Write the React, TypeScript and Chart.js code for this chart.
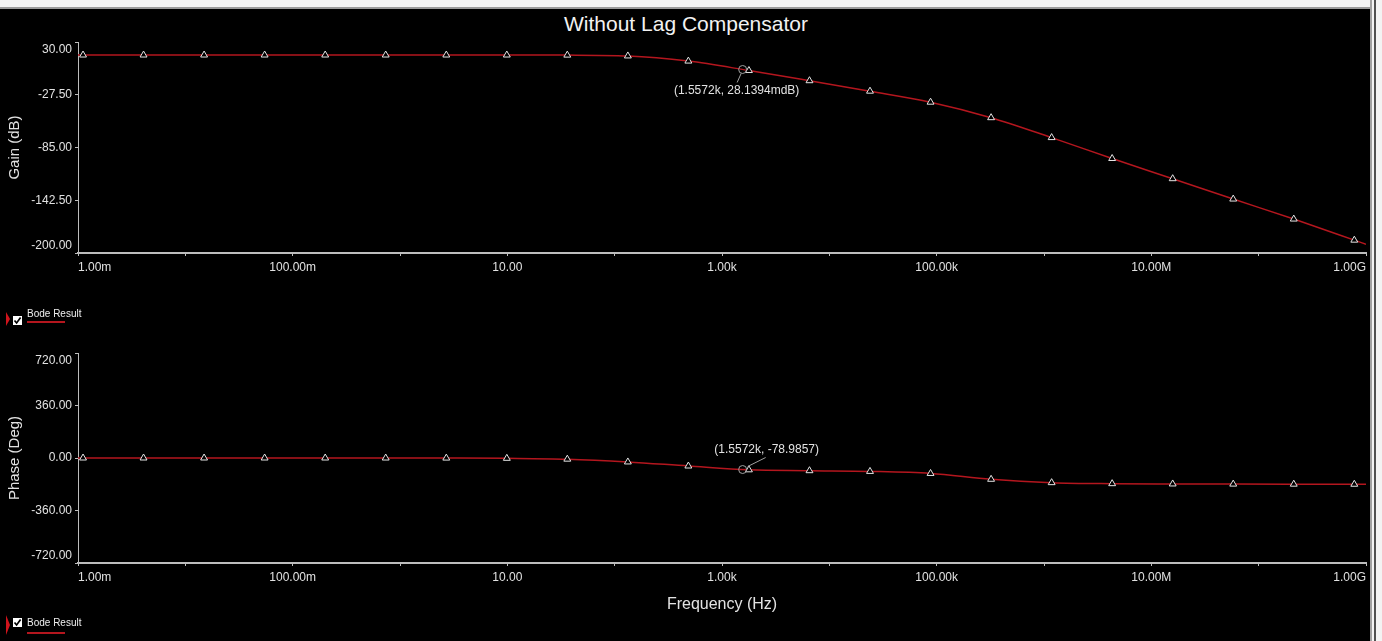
import React, { useEffect, useRef } from 'react';
import Chart from 'chart.js/auto';

const FONT = '"Liberation Sans", Arial, sans-serif';
const RED = 'rgb(180,22,30)';
const AXIS = '#bdbdbd';
const TEXT = '#e2e2e2';

// Frequency samples (Hz): axis start, 22 marker points, axis end
const frequencies = [1e-3, 1.114e-3, 4.08e-3, 0.01496, 0.0548, 0.201, 0.736, 2.7, 9.89, 36.2, 132.7, 486, 1782, 6531, 23930, 87700, 321400, 1.178e6, 4.315e6, 1.581e7, 5.794e7, 2.123e8, 7.78e8, 1e9];
const gainDb = [15.8, 15.8, 15.8, 15.8, 15.8, 15.8, 15.8, 15.8, 15.8, 15.7, 14.8, 9.2, -1.1, -12.2, -23.6, -35.6, -52.5, -74.2, -97, -119, -141.2, -163, -186, -190.5];
const phaseDeg = [0, 0, 0, 0, 0, 0, -0.2, -0.6, -2.2, -8, -27, -55, -81, -87, -92, -106, -146, -169, -176, -178, -179, -179.5, -180, -180];

const xTickValues = [1e-3, 1e-2, 1e-1, 1, 10, 100, 1e3, 1e4, 1e5, 1e6, 1e7, 1e8, 1e9];
const xTickLabels = ['1.00m', '', '100.00m', '', '10.00', '', '1.00k', '', '100.00k', '', '10.00M', '', '1.00G'];
const gainTicks = [-200, -142.5, -85, -27.5, 30];
const gainTickLabels = ['-200.00', '-142.50', '-85.00', '-27.50', '30.00'];
const phaseTicks = [-720, -360, 0, 360, 720];
const phaseTickLabels = ['-720.00', '-360.00', '0.00', '360.00', '720.00'];

const cursorFreq = 1557.2;
const cursorGain = 0.0281394;
const cursorPhase = -78.9857;
const gainCursorLabel = '(1.5572k, 28.1394mdB)';
const phaseCursorLabel = '(1.5572k, -78.9857)';

type PanelProps = {
  top: number;
  height: number;
  padTop: number;
  xHeight: number;
  series: number[];
  yTicks: number[];
  yLabels: string[];
  yTitle: string;
  xTitle?: string;
  cursorValue: number;
  cursorLabel: string;
  textDx: number;
  textDy: number;
  leader: number[];
};

function BodePanel(p: PanelProps) {
  const ref = useRef<HTMLCanvasElement>(null);
  useEffect(() => {
    const canvas = ref.current;
    if (!canvas) return;
    const yLabelPlugin = {
      id: 'yLabels',
      afterDraw(chart: any) {
        const s = chart.scales.y;
        const ctx = chart.ctx;
        ctx.save();
        ctx.font = `12px ${FONT}`;
        ctx.fillStyle = TEXT;
        ctx.textAlign = 'right';
        ctx.textBaseline = 'middle';
        p.yTicks.forEach((v, i) => {
          let py = s.getPixelForValue(v);
          if (i === 0) py -= 7;
          else if (i === p.yTicks.length - 1) py += 8;
          ctx.fillText(p.yLabels[i], s.right - 6, py);
        });
        ctx.restore();
      },
    };
    const cursorPlugin = {
      id: 'cursor',
      afterDatasetsDraw(chart: any) {
        const { ctx } = chart;
        const px = chart.scales.x.getPixelForValue(cursorFreq);
        const py = chart.scales.y.getPixelForValue(p.cursorValue);
        ctx.save();
        ctx.strokeStyle = '#a0a0a0';
        ctx.lineWidth = 1;
        ctx.beginPath();
        ctx.arc(px, py, 4, 0, Math.PI * 2);
        ctx.stroke();
        ctx.beginPath();
        ctx.moveTo(px + p.leader[0], py + p.leader[1]);
        ctx.lineTo(px + p.leader[2], py + p.leader[3]);
        ctx.stroke();
        ctx.fillStyle = TEXT;
        ctx.font = `12px ${FONT}`;
        ctx.textAlign = 'center';
        ctx.textBaseline = 'middle';
        ctx.fillText(p.cursorLabel, px + p.textDx, py + p.textDy);
        ctx.restore();
      },
    };
    const last = frequencies.length - 1;
    const chart = new Chart(canvas, {
      type: 'line',
      data: {
        datasets: [
          {
            data: frequencies.map((f, i) => ({ x: f, y: p.series[i] })),
            borderColor: RED,
            borderWidth: 1.5,
            cubicInterpolationMode: 'monotone',
            pointStyle: 'triangle',
            pointRadius: frequencies.map((_, i) => (i === 0 || i === last ? 0 : 4)),
            pointBorderColor: '#e4e4e4',
            pointBackgroundColor: '#000',
            pointBorderWidth: 1,
          } as any,
        ],
      },
      options: {
        animation: false,
        responsive: false,
        maintainAspectRatio: false,
        events: [],
        layout: { padding: { left: 0, right: 4, top: p.padTop, bottom: 0 } },
        plugins: { legend: { display: false }, tooltip: { enabled: false }, title: { display: false } },
        scales: {
          x: {
            type: 'logarithmic',
            min: 1e-3,
            max: 1e9,
            afterBuildTicks: (s: any) => {
              s.ticks = xTickValues.map((v) => ({ value: v }));
            },
            afterFit: (s: any) => {
              s.height = p.xHeight;
            },
            ticks: {
              autoSkip: false,
              maxRotation: 0,
              minRotation: 0,
              align: 'inner',
              color: TEXT,
              font: { family: FONT, size: 12 },
              padding: 4,
              callback: (_v: any, i: number) => xTickLabels[i],
            },
            grid: { drawOnChartArea: false, tickLength: 3, color: AXIS },
            border: { color: AXIS, width: 2 },
            title: p.xTitle
              ? { display: true, text: p.xTitle, color: TEXT, font: { family: FONT, size: 16 }, padding: { top: 0, bottom: 9 } }
              : { display: false },
          } as any,
          y: {
            type: 'linear',
            min: p.yTicks[0],
            max: p.yTicks[p.yTicks.length - 1],
            afterBuildTicks: (s: any) => {
              s.ticks = p.yTicks.map((v) => ({ value: v }));
            },
            afterFit: (s: any) => {
              s.width = 78;
            },
            ticks: { display: false },
            grid: { drawOnChartArea: false, tickLength: 3, color: AXIS },
            border: { color: AXIS, width: 1 },
            title: { display: true, text: p.yTitle, color: TEXT, font: { family: FONT, size: 15 }, padding: { top: 6, bottom: 0 } },
          } as any,
        },
      },
      plugins: [yLabelPlugin, cursorPlugin],
    });
    return () => chart.destroy();
  }, []);
  return (
    <canvas
      ref={ref}
      width={1370}
      height={p.height}
      style={{ position: 'absolute', left: 0, top: p.top, width: 1370, height: p.height, display: 'block' }}
    />
  );
}

function LegendItem(props: { textY: number; boxTop: number; underlineY: number; triTop: number; triH: number }) {
  const { textY, boxTop, underlineY, triTop, triH } = props;
  return (
    <>
      <div
        style={{
          position: 'absolute',
          left: 6,
          top: triTop,
          width: 0,
          height: 0,
          borderTop: `${triH / 2}px solid transparent`,
          borderBottom: `${triH / 2}px solid transparent`,
          borderLeft: '4px solid #d0141c',
        }}
      />
      <div style={{ position: 'absolute', left: 13, top: boxTop, width: 9, height: 9, background: '#fff' }}>
        <svg width={9} height={9} style={{ display: 'block' }}>
          <path d="M1.5 4.5 L3.6 7 L7.6 1.6" stroke="#000" strokeWidth={1.7} fill="none" />
        </svg>
      </div>
      <div
        style={{
          position: 'absolute',
          left: 27,
          top: textY - 6,
          height: 12,
          lineHeight: '12px',
          fontSize: 10,
          fontFamily: FONT,
          color: '#eeeeee',
          whiteSpace: 'nowrap',
        }}
      >
        Bode Result
      </div>
      <div style={{ position: 'absolute', left: 27, top: underlineY, width: 38, height: 2, background: RED }} />
    </>
  );
}

export default function App() {
  return (
    <div style={{ position: 'fixed', left: 0, top: 0, width: 1382, height: 641, background: '#000', overflow: 'hidden' }}>
      <div style={{ position: 'absolute', left: 0, top: 0, width: 1382, height: 7, background: '#f3f3f3' }} />
      <div style={{ position: 'absolute', left: 0, top: 7, width: 1382, height: 2, background: '#9a9a9a' }} />
      <div
        style={{
          position: 'absolute',
          left: 0,
          top: 12,
          width: 1372,
          textAlign: 'center',
          fontFamily: FONT,
          fontSize: 21,
          lineHeight: '24px',
          color: '#f2f2f2',
        }}
      >
        Without Lag Compensator
      </div>
      <BodePanel
        top={0}
        height={290}
        padTop={42}
        xHeight={37}
        series={gainDb}
        yTicks={gainTicks}
        yLabels={gainTickLabels}
        yTitle="Gain (dB)"
        cursorValue={cursorGain}
        cursorLabel={gainCursorLabel}
        textDx={-6}
        textDy={21}
        leader={[-1.5, 4, -5.5, 13]}
      />
      <BodePanel
        top={300}
        height={323}
        padTop={53}
        xHeight={60}
        series={phaseDeg}
        yTicks={phaseTicks}
        yLabels={phaseTickLabels}
        yTitle="Phase (Deg)"
        xTitle="Frequency (Hz)"
        cursorValue={cursorPhase}
        cursorLabel={phaseCursorLabel}
        textDx={24}
        textDy={-20}
        leader={[5, -3, 23, -12]}
      />
      <LegendItem textY={313.5} boxTop={316} underlineY={321} triTop={312} triH={15} />
      <LegendItem textY={623} boxTop={618} underlineY={632} triTop={615} triH={20} />
      <div style={{ position: 'absolute', left: 1370, top: 0, width: 12, height: 641, background: '#f3f3f3' }} />
      <div style={{ position: 'absolute', left: 1370, top: 0, width: 2, height: 641, background: '#a0a0a0' }} />
      <div style={{ position: 'absolute', left: 1374, top: 0, width: 2, height: 641, background: '#505050' }} />
    </div>
  );
}
